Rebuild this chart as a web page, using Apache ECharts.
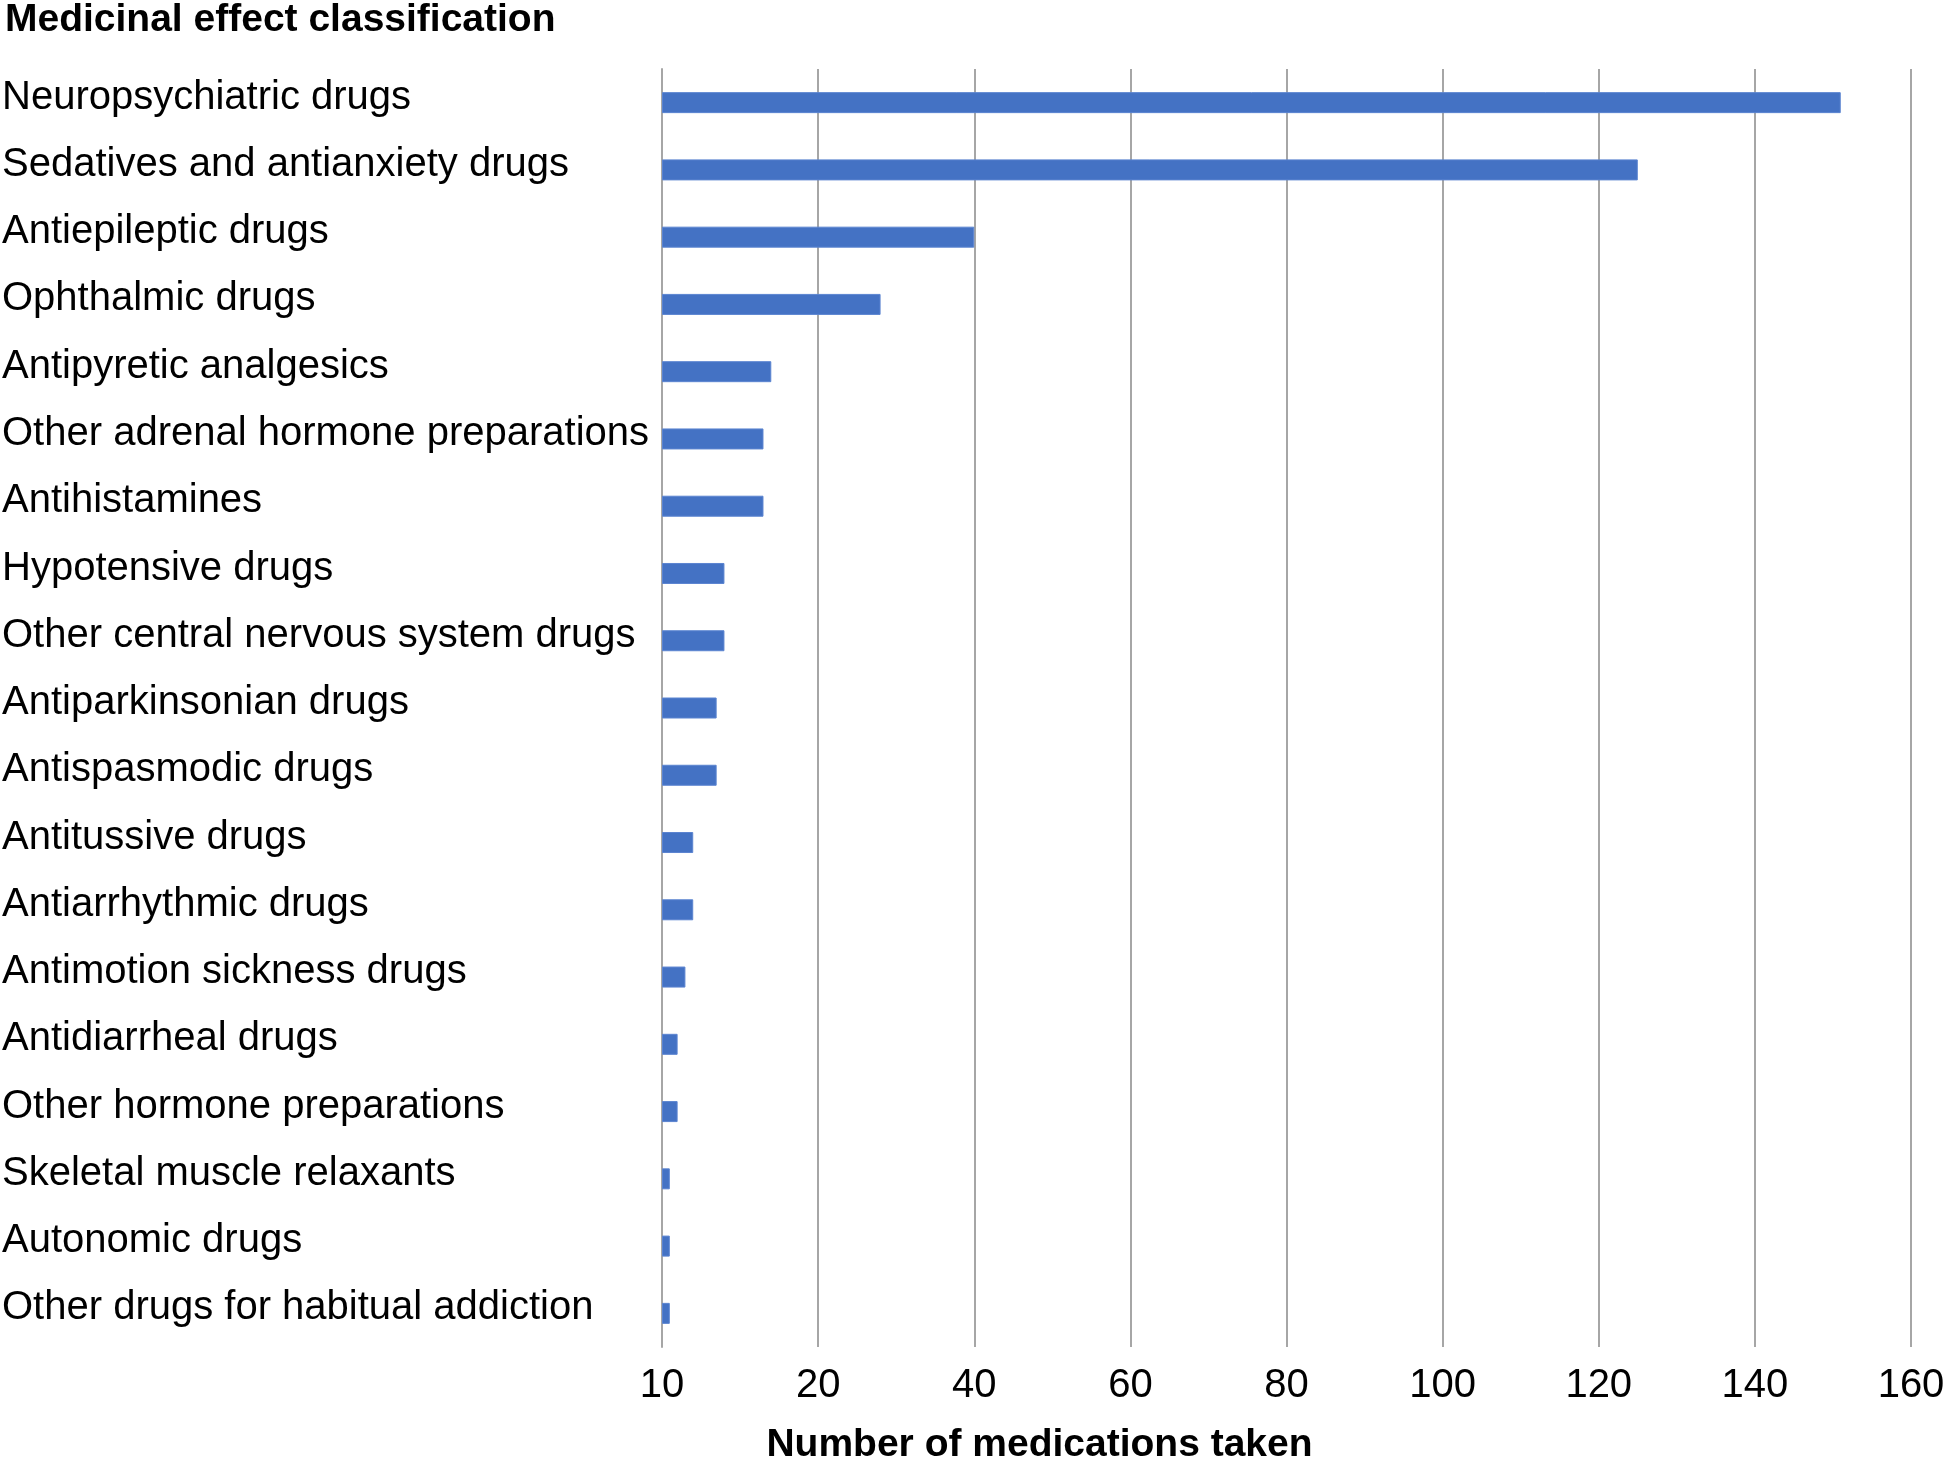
<!DOCTYPE html>
<html>
<head>
<meta charset="utf-8">
<script src="https://cdn.jsdelivr.net/npm/echarts@6/dist/echarts.min.js"></script>
<style>html,body{margin:0;padding:0;background:#fff}#c{width:1944px;height:1459px}</style>
</head>
<body>
<div id="c"></div>
<script>
const categories = [
  "Neuropsychiatric drugs",
  "Sedatives and antianxiety drugs",
  "Antiepileptic drugs",
  "Ophthalmic drugs",
  "Antipyretic analgesics",
  "Other adrenal hormone preparations",
  "Antihistamines",
  "Hypotensive drugs",
  "Other central nervous system drugs",
  "Antiparkinsonian drugs",
  "Antispasmodic drugs",
  "Antitussive drugs",
  "Antiarrhythmic drugs",
  "Antimotion sickness drugs",
  "Antidiarrheal drugs",
  "Other hormone preparations",
  "Skeletal muscle relaxants",
  "Autonomic drugs",
  "Other drugs for habitual addiction"
];
const values = [151, 125, 40, 28, 14, 13, 13, 8, 8, 7, 7, 4, 4, 3, 2, 2, 1, 1, 1];
const tickLabels = ["10", "20", "40", "60", "80", "100", "120", "140", "160"];

const chart = echarts.init(document.getElementById('c'), null, {renderer: 'canvas'});
const FONT = '"Liberation Sans", Arial, sans-serif';
chart.setOption({
  animation: false,
  backgroundColor: '#ffffff',
  title: {
    text: 'Medicinal effect classification',
    left: 0,
    top: -4,
    textStyle: {fontFamily: FONT, fontSize: 39, fontWeight: 'bold', color: '#000'}
  },
  grid: {left: 662, right: 33, top: 69, bottom: 112, containLabel: false, outerBoundsMode: 'none'},
  xAxis: {
    type: 'value',
    min: 0, max: 160, interval: 20,
    name: 'Number of medications taken',
    nameLocation: 'middle',
    nameGap: 79,
    nameTextStyle: {fontFamily: FONT, fontSize: 39, fontWeight: 'bold', color: '#000', padding: [0, 494, 0, 0]},
    axisLine: {show: false},
    axisTick: {show: false},
    axisLabel: {
      fontFamily: FONT, fontSize: 40, color: '#000', margin: 19,
      formatter: v => tickLabels[Math.round(v / 20)]
    },
    splitLine: {show: true, lineStyle: {color: '#a6a6a6', width: 2}}
  },
  yAxis: {
    type: 'category',
    data: categories,
    inverse: true,
    axisLine: {show: true, lineStyle: {color: '#a6a6a6', width: 2}},
    axisTick: {show: false},
    axisLabel: {
      fontFamily: FONT, fontSize: 40, color: '#000',
      align: 'left', margin: 660, interval: 0,
      verticalAlign: 'bottom', lineHeight: 10
    }
  },
  series: [{
    type: 'bar',
    data: values,
    barWidth: 21,
    itemStyle: {color: '#4472C4', borderColor: '#5b84d0', borderWidth: 1}
  }]
});
</script>
</body>
</html>
